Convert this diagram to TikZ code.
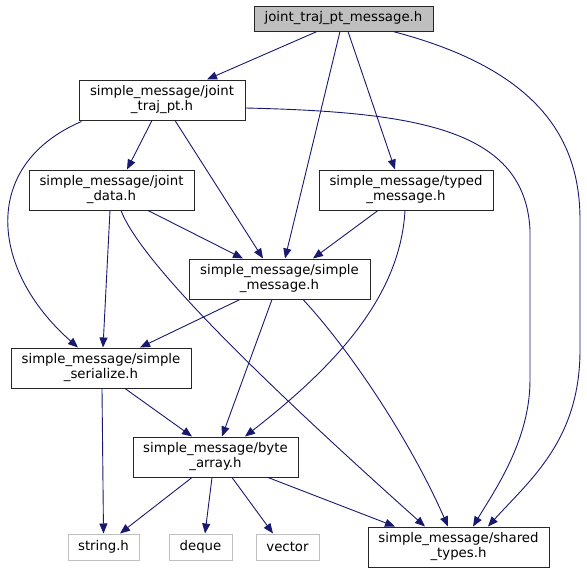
\documentclass[tikz,border=0pt]{standalone}
\usepackage{fontspec}
\setmainfont{DejaVu Sans}
\usetikzlibrary{arrows.meta,calc}
\definecolor{edgeblue}{HTML}{191970}
\definecolor{mainfill}{HTML}{BFBFBF}
\definecolor{extgray}{HTML}{BFBFBF}
\begin{document}
\begin{tikzpicture}[x=1pt,y=-1pt,
  every node/.style={inner sep=0pt,align=center,font=\fontsize{13.3}{15}\selectfont},
  filebox/.style={draw=black!85,fill=white,line width=1pt,minimum height=40pt},
  mainbox/.style={draw=black!85,fill=mainfill,line width=1pt,minimum height=25pt},
  extbox/.style={draw=extgray,fill=white,line width=1pt,minimum height=26pt},
  dep/.style={draw=edgeblue,line width=0.9pt,-{Triangle[length=10pt,width=8pt]}}]
\useasboundingbox (0,0) rectangle (587,573);
% nodes
\node[mainbox,minimum width=179pt] (top) at (343.5,18.5) {joint\_traj\_pt\_message.h};
\node[filebox,minimum width=166pt] (jtp) at (162,100) {simple\_message/joint\\\_traj\_pt.h};
\node[filebox,minimum width=165pt] (jd) at (111.5,190) {simple\_message/joint\\\_data.h};
\node[filebox,minimum width=174pt] (tm) at (406,190) {simple\_message/typed\\\_message.h};
\node[filebox,minimum width=181pt] (sm) at (279.5,279) {simple\_message/simple\\\_message.h};
\node[filebox,minimum width=180pt] (ss) at (101,368) {simple\_message/simple\\\_serialize.h};
\node[filebox,minimum width=165pt] (ba) at (215.5,457) {simple\_message/byte\\\_array.h};
\node[extbox,minimum width=71pt] (str) at (103.5,547) {string.h};
\node[extbox,minimum width=63pt] (dq) at (200.5,547) {deque};
\node[extbox,minimum width=63pt] (vec) at (287.5,547) {vector};
\node[filebox,minimum width=181pt] (st) at (458.5,547) {simple\_message/shared\\\_types.h};
% edges from top
\draw[dep] ($(top.south)+(-26.5,0)$) -- ($(jtp.north)+(45,0)$);
\draw[dep] ($(top.south)+(-3.5,0)$) -- ($(sm.north)+(5.5,0)$);
\draw[dep] ($(top.south)+(4.5,0)$) -- ($(tm.north)+(-11,0)$);
\draw[dep] ($(top.south)+(49.5,0)$) .. controls (540,70) and (580,140) .. (580,220)
   -- (580,350) .. controls (580,440) and (530,480) .. ($(st.north)+(29.5,0)$);
% edges from joint_traj_pt
\draw[dep] ($(jtp.south)+(-10,0)$) -- ($(jd.north)+(15.5,0)$);
\draw[dep] ($(jtp.south)+(13,0)$) -- ($(sm.north)+(-16.5,0)$);
\draw[dep] ($(jtp.south west)+(3,1)$) .. controls (-20,165) and (-10,270) .. ($(ss.north)+(-23,0)$);
\draw[dep] ($(jtp.east)+(0,8)$) .. controls (420,112) and (525,130) .. (530,230)
   -- (530,380) .. controls (530,440) and (495,490) .. ($(st.north)+(14.5,0)$);
% edges from joint_data
\draw[dep] ($(jd.south)+(36.5,0)$) -- ($(sm.north)+(-36.5,0)$);
\draw[dep] ($(jd.south)+(-1.5,0)$) -- ($(ss.north)+(2,0)$);
\draw[dep] ($(jd.south)+(9.5,0)$) .. controls (140,260) and (250,370) .. ($(st.north)+(-33.5,0)$);
% edges from typed_message
\draw[dep] ($(tm.south)+(-28,0)$) -- ($(sm.north)+(33.5,0)$);
\draw[dep] ($(tm.south)+(-1,0)$) .. controls (400,300) and (330,370) .. ($(ba.north)+(29.5,0)$);
% edges from simple_message
\draw[dep] ($(sm.south)+(-39.5,0)$) -- ($(ss.north)+(39,0)$);
\draw[dep] ($(sm.south)+(-7.5,0)$) -- ($(ba.north)+(6.5,0)$);
\draw[dep] ($(sm.south)+(23.5,0)$) .. controls (350,350) and (410,440) .. ($(st.north)+(-10.5,0)$);
% edges from simple_serialize
\draw[dep] ($(ss.south)+(24,0)$) -- ($(ba.north)+(-23.5,0)$);
\draw[dep] ($(ss.south)+(1,0)$) -- ($(str.north)+(0,0)$);
% edges from byte_array
\draw[dep] ($(ba.south)+(-23.5,0)$) -- ($(str.north)+(16.5,0)$);
\draw[dep] ($(ba.south)+(-3.5,0)$) -- ($(dq.north)+(4.5,0)$);
\draw[dep] ($(ba.south)+(16.5,0)$) -- ($(vec.north)+(-14.5,0)$);
\draw[dep] ($(ba.south)+(52.5,0)$) -- ($(st.north)+(-63.5,0)$);
\end{tikzpicture}
\end{document}
